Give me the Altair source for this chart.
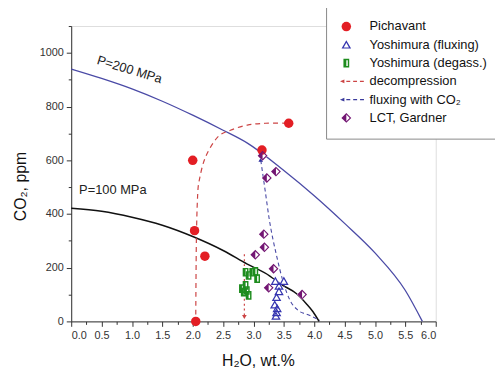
import altair as alt
import pandas as pd

# ---------------- data ----------------
labels = ["Pichavant", "Yoshimura (fluxing)", "Yoshimura (degass.)",
          "decompression", "fluxing with CO\u2082", "LCT, Gardner"]
colors = ["#e31e24", "#3535b0", "#1e8c1e", "#cc4444", "#3a3a9c", "#731673"]

pich_x = [2.0, 2.03, 2.2, 2.05, 3.14, 3.58]
pich_y = [600, 338, 243, 0, 638, 738]

yflux_x = [3.36, 3.5, 3.42, 3.42, 3.38, 3.35, 3.39, 3.38, 3.37]
yflux_y = [150, 150, 132, 112, 90, 62, 48, 33, 20]

ydeg_x = [2.87, 2.92, 2.98, 3.03, 3.06, 2.81, 2.87, 2.89, 2.92, 2.84]
ydeg_y = [183, 171, 183, 186, 159, 122, 134, 115, 97, 109]

lct_x = [3.15, 3.22, 3.37, 3.17, 3.18, 3.03, 3.33, 3.25, 3.8]
lct_y = [617, 534, 558, 325, 276, 248, 196, 125, 100]

p200_x = [0, 0.5, 1.0, 1.5, 2.0, 2.5, 2.9, 3.5, 4.0, 4.5, 5.0, 5.5, 5.78]
p200_y = [940, 905, 866, 820, 768, 712, 664, 562, 468, 365, 255, 115, 0]

p100_x = [0, 0.5, 1.0, 1.5, 2.0, 2.5, 2.89, 3.27, 3.44, 3.71, 3.87, 3.98, 4.08]
p100_y = [421, 410, 388, 358, 316, 264, 214, 169, 140, 103, 66, 36, 0]

dec_x = [3.55, 3.2, 2.9, 2.62, 2.41, 2.21, 2.11, 2.08, 2.06, 2.05]
dec_y = [738, 738, 731, 712, 686, 612, 528, 465, 300, 18]

dec2_x = [2.85, 2.85]
dec2_y = [250, 22]

flux_x = [3.12, 3.19, 3.26, 3.38, 3.49, 3.6, 3.73, 3.92, 4.03, 4.09]
flux_y = [600, 491, 380, 245, 146, 79, 42, 23, 11, 4]

arrow_down_x = [2.85]
arrow_down_y = [16]
arrow_up_x = [3.12]
arrow_up_y = [602]

text_lbl = ["P=200 MPa", "P=100 MPa"]
text_x = [0.96, 0.13]
text_y = [937, 491]

# ---------------- shapes ----------------
TRI_RING = "M 0 -0.95 L 1 0.8 L -1 0.8 Z M 0 -0.43 L -0.55 0.54 L 0.55 0.54 Z"
TRI_FULL = "M 0 -0.95 L 1 0.8 L -1 0.8 Z"
SQ_HALF = ("M -0.6 -0.9 L 0 -0.9 L 0 0.9 L -0.6 0.9 Z "
           "M 0 -0.9 L 0.6 -0.9 L 0.6 0.9 L 0 0.9 L 0 0.6 L 0.3 0.6 L 0.3 -0.6 L 0 -0.6 Z")
SQ_FULL = "M -0.6 -0.9 L 0.6 -0.9 L 0.6 0.9 L -0.6 0.9 Z"
DIA_HALF = ("M 0 -1 L -1 0 L 0 1 Z "
            "M 0 -1 L 1 0 L 0 1 L 0 0.68 L 0.68 0 L 0 -0.68 Z")
DIA_FULL = "M 0 -1 L 1 0 L 0 1 L -1 0 Z"
DASH_ARROW = ("M -1.3 0 L -0.4 -0.38 L -0.4 0.38 Z "
              "M 0 -0.14 L 0.8 -0.14 L 0.8 0.14 L 0 0.14 Z "
              "M 1.4 -0.14 L 2.2 -0.14 L 2.2 0.14 L 1.4 0.14 Z "
              "M 2.8 -0.14 L 3.6 -0.14 L 3.6 0.14 L 2.8 0.14 Z")

shapes = ["circle", TRI_RING, SQ_HALF, DASH_ARROW, DASH_ARROW, DIA_HALF]
sizes = [92, 100, 48, 49, 49, 115]

pts = pd.concat([
    pd.DataFrame({"x": pich_x, "y": pich_y, "s": labels[0]}),
    pd.DataFrame({"x": yflux_x, "y": yflux_y, "s": labels[1]}),
    pd.DataFrame({"x": ydeg_x, "y": ydeg_y, "s": labels[2]}),
    pd.DataFrame({"x": lct_x, "y": lct_y, "s": labels[5]}),
], ignore_index=True)

FONT = "Liberation Sans"

xscale = alt.Scale(domain=[0, 6], nice=False, zero=False)
yscale = alt.Scale(domain=[0, 1100], nice=False, zero=False)

xaxis = alt.Axis(
    values=[i * 0.25 for i in range(25)],
    labelExpr="datum.value % 0.5 === 0 ? format(datum.value, '.1f') : ''",
    tickSize={"condition": {"test": "datum.value % 0.5 === 0", "value": 5}, "value": 3},
    grid=False, labelFont=FONT, labelFontSize=11, labelColor="#333",
    labelPadding=3, domainColor="#333", tickColor="#333",
    title="H\u2082O, wt.%", titleFont=FONT, titleFontSize=16,
    titleFontWeight="normal", titleColor="#111",
    titleX=189, titleY=45, titleBaseline="alphabetic",
)
yaxis = alt.Axis(
    values=[i * 100 for i in range(12)],
    labelExpr="(datum.value % 200 === 0 && datum.value <= 1000) ? (datum.value + '') : ''",
    tickSize={"condition": {"test": "datum.value % 200 === 0", "value": 5}, "value": 3},
    grid=False, labelFont=FONT, labelFontSize=11, labelColor="#333",
    labelPadding=3, domainColor="#333", tickColor="#333",
    title="CO\u2082, ppm", titleFont=FONT, titleFontSize=16,
    titleFontWeight="normal", titleColor="#111",
    titleX=-51, titleY=162, titleBaseline="middle",
)


def X():
    return alt.X("x:Q", scale=xscale, axis=xaxis)


def Y():
    return alt.Y("y:Q", scale=yscale, axis=yaxis)


def line_df(xs, ys):
    return pd.DataFrame({"x": xs, "y": ys, "o": list(range(len(xs)))})


p200 = alt.Chart(line_df(p200_x, p200_y)).mark_line(
    color="#4a4aa6", strokeWidth=1.3, interpolate="monotone"
).encode(x=X(), y=Y(), order="o:Q")

p100 = alt.Chart(line_df(p100_x, p100_y)).mark_line(
    color="#111111", strokeWidth=1.5, interpolate="monotone"
).encode(x=X(), y=Y(), order="o:Q")

dec = alt.Chart(line_df(dec_x, dec_y)).mark_line(
    color="#cc4444", strokeWidth=1.2, strokeDash=[5, 4], interpolate="cardinal"
).encode(x=X(), y=Y(), order="o:Q")

dec2 = alt.Chart(line_df(dec2_x, dec2_y)).mark_line(
    color="#cc4444", strokeWidth=1.2, strokeDash=[2, 3]
).encode(x=X(), y=Y(), order="o:Q")

flux = alt.Chart(line_df(flux_x, flux_y)).mark_line(
    color="#4a4aa6", strokeWidth=1.1, strokeDash=[4, 3], interpolate="monotone"
).encode(x=X(), y=Y(), order="o:Q")


def single_marks(xs, ys, shape, size, color):
    return alt.Chart(pd.DataFrame({"x": xs, "y": ys})).mark_point(
        filled=True, opacity=1, strokeWidth=0, color=color
    ).encode(x=X(), y=Y(), shape=alt.value(shape), size=alt.value(size))


arr_down = single_marks(arrow_down_x, arrow_down_y, "triangle-down", 22, "#cc4444")
arr_up = single_marks(arrow_up_x, arrow_up_y, "triangle-up", 22, "#2a2a9c")

u1 = single_marks(yflux_x, yflux_y, TRI_FULL, 100, "white")
u2 = single_marks(ydeg_x, ydeg_y, SQ_FULL, 48, "white")
u3 = single_marks(lct_x, lct_y, DIA_FULL, 115, "white")

legend = alt.Legend(
    orient="none", legendX=258, legendY=-20, title=None,
    symbolSize=49, symbolStrokeWidth=0, symbolOpacity=1,
    labelFont=FONT, labelFontSize=13, labelColor="#111",
    rowPadding=4.5, padding=14, labelOffset=17,
    strokeColor="#888888", fillColor="white",
)

points = alt.Chart(pts).mark_point(filled=True, opacity=1, strokeWidth=0).encode(
    x=X(), y=Y(),
    color=alt.Color("s:N", scale=alt.Scale(domain=labels, range=colors), legend=legend),
    shape=alt.Shape("s:N", scale=alt.Scale(domain=labels, range=shapes), legend=legend),
    size=alt.Size("s:N", scale=alt.Scale(domain=labels, range=sizes), legend=None),
)

t200 = alt.Chart(pd.DataFrame({"x": text_x[:1], "y": text_y[:1], "t": text_lbl[:1]})).mark_text(
    font=FONT, fontSize=13, color="#222", baseline="middle", align="center", angle=17
).encode(x=X(), y=Y(), text="t:N")
t100 = alt.Chart(pd.DataFrame({"x": text_x[1:], "y": text_y[1:], "t": text_lbl[1:]})).mark_text(
    font=FONT, fontSize=13, color="#222", baseline="middle", align="left"
).encode(x=X(), y=Y(), text="t:N")

chart = alt.layer(
    p200, p100, dec, dec2, flux, arr_down, arr_up, u1, u2, u3, points, t200, t100
).properties(
    width=369, height=299,
    autosize=alt.AutoSizeParams(type="none"),
    padding={"left": 64, "top": 16, "right": 60, "bottom": 51},
).configure_view(stroke=None).configure(background="white")

chart.save("out.html", embed_options={"renderer": "svg", "actions": False})
